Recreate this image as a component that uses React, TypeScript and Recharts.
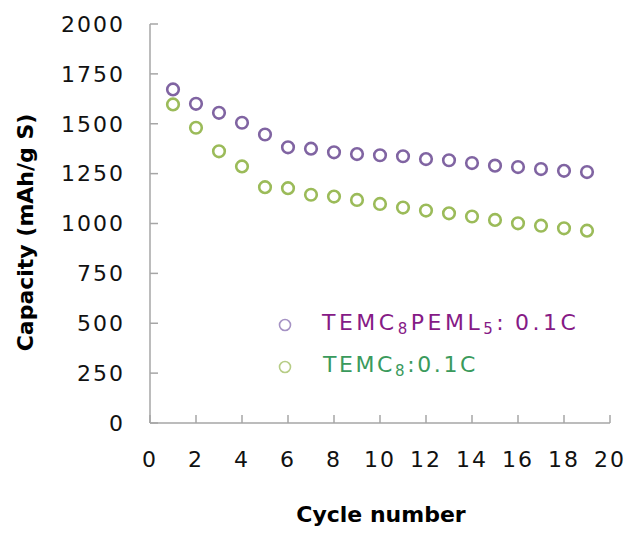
import React from 'react';
import { ScatterChart, Scatter, XAxis, YAxis, Legend, Label } from 'recharts';

if (typeof document !== 'undefined') {
  document.body.style.margin = '0';
}

const cycles = [1, 2, 3, 4, 5, 6, 7, 8, 9, 10, 11, 12, 13, 14, 15, 16, 17, 18, 19];
const pemlCapacity = [1672, 1600, 1555, 1505, 1446, 1382, 1375, 1357, 1348, 1342, 1337, 1323, 1317, 1303, 1290, 1283, 1273, 1264, 1258];
const temcCapacity = [1597, 1480, 1362, 1286, 1182, 1177, 1144, 1135, 1118, 1098, 1080, 1065, 1051, 1035, 1018, 1001, 989, 976, 964];
const xTicks = [0, 2, 4, 6, 8, 10, 12, 14, 16, 18, 20];
const yTicks = [0, 250, 500, 750, 1000, 1250, 1500, 1750, 2000];

const PURPLE = '#8064A2';
const GREEN = '#9BBB59';
const AXIS = '#a6a6a6';
const FONT = 'DejaVu Sans';

const pemlData = cycles.map((c, i) => ({ x: c, y: pemlCapacity[i] }));
const temcData = cycles.map((c, i) => ({ x: c, y: temcCapacity[i] }));

const ring = (color: string) => (props: any) => (
  <circle cx={props.cx} cy={props.cy} r={5.8} fill="none" stroke={color} strokeWidth={2.6} />
);

const renderLegend = () => (
  <svg width={360} height={90} style={{ overflow: 'visible' }}>
    <circle cx={25} cy={25} r={5.5} fill="none" stroke="#a592c4" strokeWidth={1.6} />
    <text x={62} y={30} fontFamily={FONT} fontSize={22} fill="#861a86" letterSpacing={3.5}>
      <tspan>TEMC</tspan>
      <tspan fontSize={15} dy={4}>8</tspan>
      <tspan dy={-4}>PEML</tspan>
      <tspan fontSize={15} dy={4}>5</tspan>
      <tspan dy={-4}>:</tspan>
      <tspan dx={8}>0.1C</tspan>
    </text>
    <circle cx={25} cy={67} r={5.5} fill="none" stroke="#b7cd86" strokeWidth={1.6} />
    <text x={63} y={72} fontFamily={FONT} fontSize={22} fill="#3a9a5c" letterSpacing={2.6}>
      <tspan>TEMC</tspan>
      <tspan fontSize={15} dy={4}>8</tspan>
      <tspan dy={-4}>:0.1C</tspan>
    </text>
  </svg>
);

const renderYLabel = (props: any) => {
  const vb = props.viewBox || { x: 0, y: 0, width: 0, height: 0 };
  const cx = vb.x + 33;
  const cy = vb.y + vb.height / 2 + 9;
  return (
    <text
      x={cx}
      y={cy}
      transform={`rotate(-90, ${cx}, ${cy})`}
      textAnchor="middle"
      fontFamily={FONT}
      fontSize={22}
      fontWeight="bold"
      fill="#000"
    >
      Capacity (mAh/g S)
    </text>
  );
};

const renderXLabel = (props: any) => {
  const vb = props.viewBox || { x: 0, y: 0, width: 0, height: 0 };
  return (
    <text
      x={vb.x + vb.width / 2 + 1}
      y={522}
      textAnchor="middle"
      fontFamily={FONT}
      fontSize={22}
      fontWeight="bold"
      fill="#000"
    >
      Cycle number
    </text>
  );
};

export default function App() {
  return (
    <div style={{ width: 632, height: 535, background: '#fff' }}>
      <ScatterChart
        width={632}
        height={535}
        margin={{ top: 24, right: 22, left: 0, bottom: 0 }}
        style={{ fontFamily: FONT }}
      >
        <XAxis
          type="number"
          dataKey="x"
          domain={[0, 20]}
          ticks={xTicks}
          interval={0}
          height={112}
          tickSize={-8}
          tickMargin={36}
          axisLine={{ stroke: AXIS, strokeWidth: 1.5 }}
          tickLine={{ stroke: AXIS, strokeWidth: 1.5 }}
          tick={{ fontSize: 22, fill: '#111', fontFamily: FONT, letterSpacing: 2 }}
        >
          <Label content={renderXLabel} />
        </XAxis>
        <XAxis
          xAxisId="top"
          orientation="top"
          type="number"
          dataKey="x"
          domain={[0, 20]}
          height={0}
          tick={false}
          tickLine={false}
          axisLine={{ stroke: AXIS, strokeWidth: 1.5 }}
        />
        <YAxis
          type="number"
          dataKey="y"
          domain={[0, 2000]}
          ticks={yTicks}
          interval={0}
          width={150}
          tickSize={-8}
          tickMargin={33}
          axisLine={{ stroke: AXIS, strokeWidth: 1.5 }}
          tickLine={{ stroke: AXIS, strokeWidth: 1.5 }}
          tick={{ fontSize: 22, fill: '#111', fontFamily: FONT, letterSpacing: 2 }}
        >
          <Label content={renderYLabel} />
        </YAxis>
        <YAxis
          yAxisId="right"
          orientation="right"
          type="number"
          dataKey="y"
          domain={[0, 2000]}
          width={0}
          tick={false}
          tickLine={false}
          axisLine={{ stroke: AXIS, strokeWidth: 1.5 }}
        />
        <Legend
          layout="vertical"
          align="center"
          verticalAlign="middle"
          content={renderLegend}
          wrapperStyle={{ position: 'absolute', left: 260, top: 300, width: 360, height: 90 }}
        />
        <Scatter
          name="TEMC8PEML5: 0.1C"
          data={pemlData}
          shape={ring(PURPLE)}
          isAnimationActive={false}
        />
        <Scatter
          name="TEMC8:0.1C"
          data={temcData}
          shape={ring(GREEN)}
          isAnimationActive={false}
        />
      </ScatterChart>
    </div>
  );
}
